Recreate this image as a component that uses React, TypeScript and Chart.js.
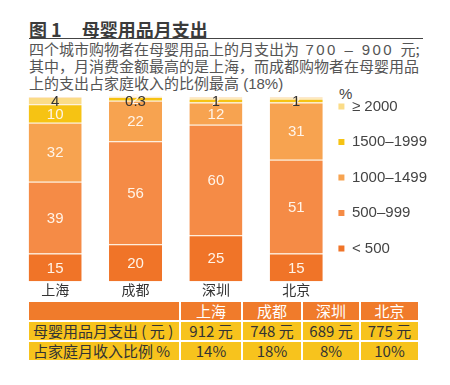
import React, { useEffect, useRef } from 'react';
import { Chart, registerables } from 'chart.js';

Chart.register(...registerables);

const cities = ['上海', '成都', '深圳', '北京'];
const bandNames = ['< 500', '500–999', '1000–1499', '1500–1999', '≥ 2000'];
const under500 = [15, 20, 25, 15];
const from500to999 = [39, 56, 60, 51];
const from1000to1499 = [32, 22, 12, 31];
const from1500to1999 = [10, 2, 2, 2];
const over2000 = [4, 0.3, 1, 1];
const bandColors = ['#f07428', '#f58b46', '#f7a350', '#f6c313', '#fbdc88'];

const monthlySpend = [912, 748, 689, 775];
const incomeShare = [14, 18, 8, 10];
const rowLabels = ['母婴用品月支出 ( 元 )', '占家庭月收入比例 %'];

const LATIN = '"Liberation Sans", Arial, "Noto Sans CJK SC", sans-serif';
const CJK = '"Noto Sans CJK SC", "Liberation Sans", sans-serif';

const valueLabels = {
  id: 'valueLabels',
  afterDatasetsDraw(chart: any) {
    const ctx = chart.ctx;
    const n = chart.data.datasets.length;
    ctx.save();
    ctx.textAlign = 'center';
    ctx.textBaseline = 'middle';
    ctx.font = '15px ' + LATIN;
    chart.data.datasets.forEach((ds: any, di: number) => {
      if (di === n - 1) return;
      const meta = chart.getDatasetMeta(di);
      meta.data.forEach((bar: any, i: number) => {
        const { x, y, base } = bar.getProps(['x', 'y', 'base'], true);
        ctx.fillStyle = '#fff4e8';
        ctx.fillText(String(ds.data[i]), x, (y + base) / 2 + 1);
      });
    });
    const topMeta = chart.getDatasetMeta(n - 1);
    topMeta.data.forEach((bar: any, i: number) => {
      ctx.fillStyle = '#333333';
      ctx.fillText(String(chart.data.datasets[n - 1].data[i]), bar.x, chart.chartArea.top + 5);
    });
    ctx.restore();
  },
};

function BarChart() {
  const ref = useRef<HTMLCanvasElement>(null);
  useEffect(() => {
    if (!ref.current) return;
    const series = [under500, from500to999, from1000to1499, from1500to1999, over2000];
    const chart = new Chart(ref.current, {
      type: 'bar',
      data: {
        labels: cities,
        datasets: series.map((d, i) => ({
          label: bandNames[i],
          data: d,
          backgroundColor: bandColors[i],
          borderColor: '#fde8cc',
          borderWidth: { top: 1, right: 0, bottom: 0, left: 0 },
          barPercentage: 0.66,
          categoryPercentage: 1,
          clip: false as any,
        })),
      },
      options: {
        responsive: false,
        animation: false,
        devicePixelRatio: 1,
        layout: { padding: { left: 15, right: 13, top: 7, bottom: 2 } },
        scales: {
          x: {
            stacked: true,
            grid: { display: false, drawTicks: false, tickLength: 0 },
            border: { display: false },
            ticks: { color: '#333333', font: { size: 14, family: CJK }, padding: 0, maxRotation: 0 },
          },
          y: { stacked: true, display: false, min: 0, max: 100 },
        },
        plugins: {
          tooltip: { enabled: false },
          legend: {
            position: 'right',
            align: 'start',
            reverse: true,
            labels: {
              boxWidth: 6,
              boxHeight: 6,
              padding: 2,
              color: '#444444',
              font: { size: 15, family: LATIN, lineHeight: 16.75 / 15 },
              generateLabels: (c: any) =>
                (Chart.defaults.plugins.legend.labels.generateLabels as any)(c).map((l: any) => ({
                  ...l,
                  text: [l.text, ''],
                  lineWidth: 0,
                  strokeStyle: 'rgba(0,0,0,0)',
                })),
            },
          },
        },
      },
      plugins: [valueLabels],
    });
    return () => chart.destroy();
  }, []);
  return (
    <canvas
      ref={ref}
      width={450}
      height={210}
      style={{ position: 'absolute', left: 0, top: 90, width: 450, height: 210, display: 'block' }}
    />
  );
}

export default function App() {
  const cell = (w: number, bg: string, content: React.ReactNode, extra: React.CSSProperties = {}) => (
    <div
      style={{
        width: w,
        height: 18,
        background: bg,
        display: 'flex',
        alignItems: 'center',
        justifyContent: 'center',
        fontSize: 15,
        lineHeight: '18px',
        fontFamily: CJK,
        whiteSpace: 'nowrap',
        ...extra,
      }}
    >
      {content}
    </div>
  );
  const widths = [150, 60, 58, 56, 57];
  const orange = '#f07b2b';
  const yellow = '#f7c31d';
  return (
    <div style={{ position: 'absolute', left: 0, top: 0, width: 450, height: 385, background: '#ffffff', overflow: 'hidden' }}>
      <div style={{ position: 'absolute', left: 29, top: 19, fontFamily: CJK, fontWeight: 700, fontSize: 18, lineHeight: '20px', color: '#3b3b3b', whiteSpace: 'nowrap' }}>
        <span>图 1</span>
        <span style={{ marginLeft: 20 }}>母婴用品月支出</span>
      </div>
      <div style={{ position: 'absolute', left: 29, top: 38, width: 394, height: 1, background: '#444444' }} />
      <div style={{ position: 'absolute', left: 29, top: 41, fontFamily: CJK, fontSize: 15, lineHeight: '16.3px', color: '#555555', whiteSpace: 'nowrap' }}>
        <div>
          四个城市购物者在母婴用品上的月支出为
          <span style={{ fontFamily: LATIN, letterSpacing: 2.4 }}> 700 – 900 </span>元;
        </div>
        <div>其中，月消费金额最高的是上海，而成都购物者在母婴用品</div>
        <div>
          上的支出占家庭收入的比例最高<span style={{ fontFamily: LATIN }}> (18%)</span>
        </div>
      </div>
      <div style={{ position: 'absolute', left: 339, top: 85, fontFamily: LATIN, fontSize: 15, color: '#444444' }}>%</div>
      <BarChart />
      <div style={{ position: 'absolute', left: 29, top: 302, display: 'flex', flexDirection: 'column', gap: 2 }}>
        <div style={{ display: 'flex', gap: 2 }}>
          {cell(widths[0], orange, '')}
          {cities.map((c, i) => cell(widths[i + 1], orange, c, { color: '#ffffff' }))}
        </div>
        <div style={{ display: 'flex', gap: 2 }}>
          {cell(widths[0], yellow, rowLabels[0], { justifyContent: 'flex-start', paddingLeft: 4, boxSizing: 'border-box', color: '#333333' })}
          {monthlySpend.map((v, i) => cell(widths[i + 1], yellow, `${v} 元`, { color: '#333333' }))}
        </div>
        <div style={{ display: 'flex', gap: 2 }}>
          {cell(widths[0], yellow, rowLabels[1], { justifyContent: 'flex-start', paddingLeft: 4, boxSizing: 'border-box', color: '#333333' })}
          {incomeShare.map((v, i) => cell(widths[i + 1], yellow, `${v}%`, { color: '#333333' }))}
        </div>
      </div>
    </div>
  );
}
